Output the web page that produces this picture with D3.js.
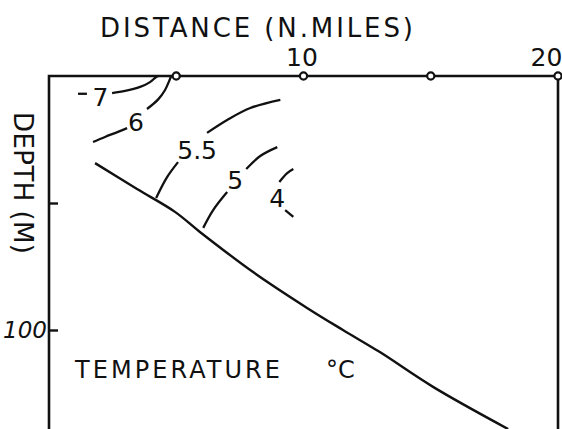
<!DOCTYPE html>
<html>
<head>
<meta charset="utf-8">
<script src="https://cdn.jsdelivr.net/npm/d3@7"></script>
<style>
  html, body { margin: 0; padding: 0; background: #fff; }
  svg { display: block; }
  text { font-family: "DejaVu Sans", sans-serif; fill: #111; }
</style>
</head>
<body>
<svg id="chart" width="562" height="429"></svg>
<script>
// ---- Data (distance in nautical miles, depth in metres) ----
const xTickLabels = [10, 20];
const stationMarks = [5, 10, 15, 20];
const yTickValues = [50, 100];
const yTickLabels = ["", "100"];

const seabed = [
  [1.81, 34.3], [3.46, 44.5], [4.95, 53.5], [5.93, 61.4], [8.02, 77.2],
  [10.14, 91.3], [11.55, 100.0], [13.0, 108.7], [15.09, 122.4], [18.04, 139.0]
];

const contourLevels = ["7", "6", "5.5", "5", "4"];
const contour7 = [
  [[1.14, 7.0], [1.49, 7.0]],
  [[2.48, 6.7], [2.99, 5.9], [3.58, 4.3], [3.97, 2.4], [4.21, 0.4], [4.29, 0]]
];
const contour6 = [
  [[1.73, 26.0], [2.20, 24.0], [2.71, 22.0], [3.07, 20.5]],
  [[3.85, 13.0], [4.29, 9.2], [4.56, 5.5], [4.72, 2.0], [4.80, 0]]
];
const contour55 = [
  [[4.21, 48.0], [4.64, 39.8], [5.07, 33.9]],
  [[6.21, 22.4], [7.0, 17.3], [7.91, 12.6], [9.09, 9.4]]
];
const contour5 = [
  [[6.06, 59.8], [6.45, 52.8], [7.0, 45.7]],
  [[7.75, 36.6], [8.30, 31.5], [8.97, 28.0]]
];
const contour4 = [
  [[9.05, 41.7], [9.36, 38.2], [9.60, 36.6]],
  [[9.28, 52.8], [9.60, 55.5]]
];
const contours = [contour7, contour6, contour55, contour5, contour4];
const labelPositions = [[2.02, 8.4], [3.42, 18.1], [5.82, 29.1], [7.32, 40.9], [8.97, 48.0]];

// ---- Chart ----
const svg = d3.select("#chart");
const x = d3.scaleLinear().domain([0, 20]).range([49, 558]);
const y = d3.scaleLinear().domain([0, 150]).range([76, 457]);
const ink = "#111";

const line = d3.line().x(d => x(d[0])).y(d => y(d[1])).curve(d3.curveCatmullRom.alpha(0.5));

// frame
svg.append("path")
  .attr("d", `M${x(0)},${y(150)}V${y(0)}H${x(20)}V${y(150)}`)
  .attr("fill", "none").attr("stroke", ink).attr("stroke-width", 2.6);

// top axis labels
const topAxis = d3.axisTop(x).tickValues(xTickLabels).tickSize(0).tickPadding(10).tickFormat(d3.format("d"));
const gTop = svg.append("g").attr("transform", `translate(0,${y(0)})`).call(topAxis);
gTop.select(".domain").remove();
gTop.selectAll("text").attr("font-size", 25).attr("fill", ink)
  .attr("font-family", "DejaVu Sans")
  .attr("dx", d => d === 20 ? -12 : -2);

// left axis ticks (inward)
const leftAxis = d3.axisLeft(y).tickValues(yTickValues).tickSize(-9).tickPadding(14)
  .tickFormat((d, i) => yTickLabels[i]);
const gLeft = svg.append("g").attr("transform", `translate(${x(0)},0)`).call(leftAxis);
gLeft.select(".domain").remove();
gLeft.selectAll("line").attr("stroke", ink).attr("stroke-width", 2.4);
gLeft.selectAll("text").attr("font-size", 23).attr("fill", ink)
  .attr("font-family", "DejaVu Sans").attr("font-style", "italic")
  .attr("dx", 12).attr("dy", "0.33em");

// station circles
svg.append("g").selectAll("circle").data(stationMarks).join("circle")
  .attr("cx", d => x(d)).attr("cy", y(0)).attr("r", 3.6)
  .attr("fill", "#fff").attr("stroke", ink).attr("stroke-width", 2.2);

// seabed
svg.append("path").datum(seabed).attr("d", line)
  .attr("fill", "none").attr("stroke", ink).attr("stroke-width", 2.4);

// contours
contours.forEach(segs => {
  svg.append("g").selectAll("path").data(segs).join("path")
    .attr("d", line).attr("fill", "none").attr("stroke", ink).attr("stroke-width", 2.3);
});

// contour labels
svg.append("g").selectAll("text").data(contourLevels).join("text")
  .attr("x", (d, i) => x(labelPositions[i][0]))
  .attr("y", (d, i) => y(labelPositions[i][1]))
  .attr("text-anchor", "middle").attr("dy", "0.36em")
  .attr("font-size", 25).text(d => d);

// titles
svg.append("text").attr("x", 100).attr("y", 37)
  .attr("font-size", 26).attr("textLength", 313).attr("lengthAdjust", "spacing")
  .text("DISTANCE (N.MILES)");

svg.append("text").attr("transform", "translate(14,112) rotate(90)")
  .attr("font-size", 26).attr("textLength", 142).attr("lengthAdjust", "spacing")
  .text("DEPTH (M)");

svg.append("text").attr("x", 75).attr("y", 378)
  .attr("font-size", 24).attr("textLength", 205).attr("lengthAdjust", "spacing")
  .text("TEMPERATURE");
svg.append("text").attr("x", 326).attr("y", 378)
  .attr("font-size", 24).text("°C");
</script>
</body>
</html>
